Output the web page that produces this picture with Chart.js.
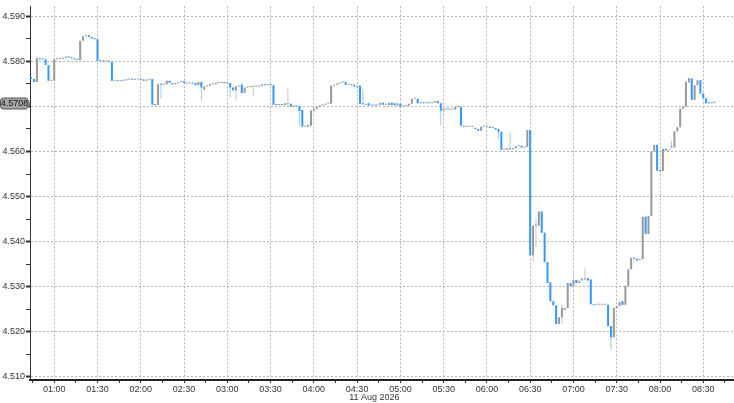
<!DOCTYPE html>
<html>
<head>
<meta charset="utf-8">
<script src="https://cdn.jsdelivr.net/npm/chart.js@4.4.1/dist/chart.umd.min.js"></script>
<style>
  html, body { margin: 0; padding: 0; background: #fff; }
  #wrap { position: relative; width: 734px; height: 403px; }
</style>
</head>
<body>
<div id="wrap"><canvas id="chart"></canvas></div>
<script>
// 2-minute bars, first one at 00:44
const firstBar = '00:44';
const barStep = 2;
const dateLabel = '11 Aug 2026';

const opens = [
  4.5765,4.5761,4.5754,4.5807,4.5805,4.5805,4.5792,4.5757,4.5757,4.5805,
  4.5806,4.5806,4.5808,4.5811,4.5809,4.5807,4.5805,4.5803,4.5846,4.5856,
  4.5858,4.5854,4.5851,4.5849,4.5801,4.5802,4.5800,4.5800,4.5799,4.5757,
  4.5757,4.5756,4.5757,4.5758,4.5760,4.5761,4.5759,4.5760,4.5760,4.5760,
  4.5757,4.5760,4.5761,4.5704,4.5703,4.5749,4.5748,4.5749,4.5757,4.5752,
  4.5749,4.5752,4.5754,4.5756,4.5752,4.5751,4.5752,4.5752,4.5747,4.5754,
  4.5738,4.5744,4.5746,4.5749,4.5749,4.5752,4.5752,4.5754,4.5752,4.5752,
  4.5742,4.5736,4.5744,4.5748,4.5730,4.5742,4.5743,4.5744,4.5744,4.5744,
  4.5746,4.5749,4.5747,4.5749,4.5747,4.5704,4.5703,4.5705,4.5703,4.5705,
  4.5706,4.5700,4.5701,4.5701,4.5692,4.5655,4.5655,4.5657,4.5691,4.5695,
  4.5699,4.5702,4.5704,4.5706,4.5706,4.5746,4.5748,4.5751,4.5753,4.5755,
  4.5748,4.5748,4.5748,4.5745,4.5746,4.5706,4.5705,4.5707,4.5702,4.5703,
  4.5702,4.5704,4.5708,4.5704,4.5703,4.5708,4.5707,4.5702,4.5706,4.5700,
  4.5701,4.5702,4.5706,4.5717,4.5717,4.5707,4.5709,4.5707,4.5709,4.5707,
  4.5709,4.5712,4.5707,4.5691,4.5695,4.5694,4.5693,4.5693,4.5699,4.5699,
  4.5657,4.5655,4.5655,4.5655,4.5653,4.5650,4.5646,4.5655,4.5655,4.5655,
  4.5652,4.5652,4.5650,4.5644,4.5604,4.5604,4.5607,4.5605,4.5608,4.5612,
  4.5613,4.5609,4.5610,4.5648,4.5370,4.5435,4.5435,4.5467,4.5420,4.5355,
  4.5310,4.5268,4.5259,4.5217,4.5232,4.5248,4.5253,4.5308,4.5301,4.5315,
  4.5309,4.5314,4.5316,4.5319,4.5316,4.5261,4.5260,4.5260,4.5260,4.5260,
  4.5260,4.5213,4.5188,4.5253,4.5257,4.5268,4.5260,4.5302,4.5339,4.5364,
  4.5362,4.5359,4.5361,4.5455,4.5417,4.5457,4.5600,4.5615,4.5558,4.5557,
  4.5606,4.5602,4.5610,4.5609,4.5645,4.5654,4.5695,4.5700,4.5753,4.5762,
  4.5715,4.5747,4.5758,4.5729,4.5718,4.5709,4.5707,4.5709
];
const highs = [
  4.5765,4.5761,4.5808,4.5807,4.5805,4.5805,4.5792,4.5757,4.5805,4.5806,
  4.5806,4.5808,4.5811,4.5811,4.5809,4.5807,4.5805,4.5846,4.5856,4.5858,
  4.5858,4.5854,4.5851,4.5849,4.5802,4.5802,4.5800,4.5800,4.5799,4.5757,
  4.5757,4.5757,4.5758,4.5760,4.5761,4.5761,4.5760,4.5760,4.5760,4.5760,
  4.5760,4.5761,4.5761,4.5704,4.5749,4.5749,4.5749,4.5757,4.5757,4.5752,
  4.5752,4.5754,4.5756,4.5756,4.5752,4.5752,4.5752,4.5752,4.5754,4.5754,
  4.5744,4.5746,4.5749,4.5749,4.5752,4.5752,4.5754,4.5754,4.5752,4.5752,
  4.5742,4.5744,4.5745,4.5752,4.5742,4.5743,4.5744,4.5744,4.5744,4.5746,
  4.5749,4.5749,4.5749,4.5749,4.5747,4.5704,4.5704,4.5705,4.5707,4.5741,
  4.5706,4.5701,4.5701,4.5701,4.5692,4.5656,4.5659,4.5691,4.5695,4.5699,
  4.5702,4.5704,4.5706,4.5706,4.5746,4.5748,4.5751,4.5753,4.5755,4.5755,
  4.5748,4.5748,4.5748,4.5745,4.5746,4.5738,4.5705,4.5707,4.5703,4.5703,
  4.5704,4.5708,4.5708,4.5705,4.5708,4.5708,4.5707,4.5707,4.5706,4.5701,
  4.5702,4.5706,4.5717,4.5717,4.5717,4.5708,4.5709,4.5709,4.5709,4.5709,
  4.5712,4.5712,4.5707,4.5695,4.5695,4.5694,4.5694,4.5699,4.5699,4.5699,
  4.5657,4.5655,4.5655,4.5656,4.5653,4.5650,4.5655,4.5655,4.5655,4.5655,
  4.5652,4.5652,4.5650,4.5644,4.5604,4.5607,4.5644,4.5608,4.5612,4.5613,
  4.5613,4.5610,4.5648,4.5648,4.5435,4.5453,4.5467,4.5467,4.5420,4.5355,
  4.5310,4.5268,4.5259,4.5232,4.5261,4.5253,4.5308,4.5308,4.5333,4.5315,
  4.5313,4.5318,4.5342,4.5319,4.5316,4.5261,4.5260,4.5260,4.5260,4.5260,
  4.5260,4.5213,4.5253,4.5257,4.5266,4.5268,4.5302,4.5339,4.5364,4.5364,
  4.5362,4.5361,4.5455,4.5455,4.5457,4.5600,4.5615,4.5615,4.5558,4.5606,
  4.5606,4.5604,4.5624,4.5645,4.5654,4.5695,4.5700,4.5755,4.5763,4.5762,
  4.5747,4.5758,4.5758,4.5729,4.5718,4.5709,4.5708,4.5709
];
const lows = [
  4.5761,4.5754,4.5754,4.5805,4.5804,4.5792,4.5757,4.5757,4.5757,4.5805,
  4.5806,4.5806,4.5808,4.5809,4.5807,4.5805,4.5803,4.5803,4.5846,4.5856,
  4.5854,4.5851,4.5849,4.5801,4.5801,4.5800,4.5800,4.5799,4.5757,4.5757,
  4.5756,4.5756,4.5757,4.5758,4.5760,4.5759,4.5759,4.5760,4.5759,4.5757,
  4.5757,4.5760,4.5704,4.5703,4.5703,4.5717,4.5748,4.5749,4.5752,4.5749,
  4.5749,4.5752,4.5754,4.5752,4.5751,4.5751,4.5751,4.5747,4.5747,4.5713,
  4.5735,4.5744,4.5746,4.5749,4.5749,4.5752,4.5752,4.5752,4.5752,4.5720,
  4.5736,4.5713,4.5744,4.5730,4.5730,4.5742,4.5743,4.5722,4.5744,4.5744,
  4.5746,4.5747,4.5747,4.5747,4.5704,4.5703,4.5703,4.5703,4.5703,4.5705,
  4.5700,4.5700,4.5700,4.5657,4.5655,4.5655,4.5655,4.5657,4.5691,4.5695,
  4.5699,4.5702,4.5704,4.5706,4.5706,4.5746,4.5748,4.5751,4.5753,4.5748,
  4.5748,4.5747,4.5744,4.5743,4.5706,4.5705,4.5704,4.5702,4.5702,4.5702,
  4.5702,4.5704,4.5704,4.5704,4.5703,4.5703,4.5702,4.5702,4.5700,4.5700,
  4.5701,4.5702,4.5706,4.5717,4.5707,4.5707,4.5707,4.5707,4.5707,4.5707,
  4.5709,4.5707,4.5659,4.5677,4.5694,4.5693,4.5693,4.5693,4.5699,4.5657,
  4.5655,4.5655,4.5655,4.5655,4.5650,4.5646,4.5646,4.5655,4.5655,4.5652,
  4.5652,4.5649,4.5628,4.5604,4.5604,4.5604,4.5605,4.5605,4.5608,4.5612,
  4.5609,4.5609,4.5610,4.5370,4.5355,4.5388,4.5435,4.5420,4.5355,4.5308,
  4.5268,4.5259,4.5217,4.5217,4.5217,4.5248,4.5253,4.5301,4.5301,4.5308,
  4.5309,4.5314,4.5316,4.5314,4.5261,4.5259,4.5260,4.5260,4.5260,4.5260,
  4.5213,4.5160,4.5188,4.5253,4.5257,4.5260,4.5260,4.5302,4.5339,4.5362,
  4.5358,4.5359,4.5361,4.5417,4.5417,4.5457,4.5600,4.5558,4.5557,4.5557,
  4.5602,4.5602,4.5609,4.5609,4.5645,4.5654,4.5695,4.5700,4.5753,4.5715,
  4.5715,4.5747,4.5729,4.5718,4.5707,4.5707,4.5707,4.5708
];
const closes = [
  4.5761,4.5754,4.5807,4.5805,4.5804,4.5792,4.5757,4.5757,4.5805,4.5806,
  4.5806,4.5808,4.5811,4.5809,4.5807,4.5805,4.5803,4.5846,4.5856,4.5858,
  4.5854,4.5851,4.5849,4.5801,4.5802,4.5800,4.5800,4.5799,4.5757,4.5757,
  4.5756,4.5757,4.5758,4.5760,4.5761,4.5759,4.5760,4.5760,4.5759,4.5757,
  4.5760,4.5761,4.5704,4.5703,4.5749,4.5748,4.5749,4.5757,4.5752,4.5749,
  4.5752,4.5754,4.5756,4.5752,4.5751,4.5752,4.5751,4.5747,4.5754,4.5742,
  4.5744,4.5746,4.5749,4.5749,4.5752,4.5752,4.5754,4.5752,4.5752,4.5742,
  4.5736,4.5744,4.5745,4.5730,4.5742,4.5743,4.5744,4.5744,4.5744,4.5746,
  4.5749,4.5747,4.5749,4.5747,4.5704,4.5703,4.5704,4.5703,4.5707,4.5707,
  4.5700,4.5701,4.5700,4.5690,4.5655,4.5656,4.5659,4.5691,4.5695,4.5699,
  4.5702,4.5704,4.5706,4.5706,4.5746,4.5748,4.5751,4.5753,4.5755,4.5748,
  4.5748,4.5747,4.5744,4.5743,4.5706,4.5705,4.5704,4.5702,4.5703,4.5702,
  4.5704,4.5708,4.5704,4.5705,4.5708,4.5703,4.5702,4.5707,4.5700,4.5701,
  4.5702,4.5706,4.5717,4.5717,4.5707,4.5708,4.5707,4.5709,4.5707,4.5709,
  4.5712,4.5707,4.5691,4.5695,4.5694,4.5693,4.5694,4.5699,4.5699,4.5657,
  4.5655,4.5655,4.5655,4.5656,4.5650,4.5646,4.5655,4.5655,4.5655,4.5652,
  4.5652,4.5649,4.5644,4.5604,4.5604,4.5607,4.5605,4.5608,4.5612,4.5613,
  4.5609,4.5610,4.5648,4.5370,4.5435,4.5436,4.5467,4.5420,4.5355,4.5308,
  4.5268,4.5259,4.5217,4.5232,4.5253,4.5253,4.5308,4.5301,4.5315,4.5308,
  4.5313,4.5318,4.5318,4.5314,4.5261,4.5259,4.5260,4.5260,4.5260,4.5260,
  4.5213,4.5188,4.5253,4.5257,4.5266,4.5260,4.5302,4.5339,4.5364,4.5362,
  4.5358,4.5361,4.5455,4.5417,4.5457,4.5600,4.5615,4.5558,4.5557,4.5606,
  4.5602,4.5604,4.5609,4.5645,4.5654,4.5695,4.5700,4.5755,4.5763,4.5715,
  4.5747,4.5758,4.5729,4.5718,4.5707,4.5707,4.5708,4.5708
];

const BLUE = '#3399ff';
const GRAY = '#999999';
const BLUE_WICK = '#9ccbf7';
const GRAY_WICK = '#c9c9c9';

const toMinutes = (s) => { const [h, m] = s.split(':').map(Number); return h * 60 + m; };
const fmtTime = (v) => String(Math.floor(v / 60)).padStart(2, '0') + ':' + String(v % 60).padStart(2, '0');

const start = toMinutes(firstBar);
const times = opens.map((_, i) => start + i * barStep);
const isDown = opens.map((o, i) => closes[i] < o);

const bodyData = times.map((t, i) => ({ x: t, y: [opens[i], closes[i]] }));
const wickData = times.map((t, i) => ({ x: t, y: [lows[i], highs[i]] }));

const isMajorY = (v) => Math.abs(Math.round(v * 100) - v * 100) < 1e-6;
const isMajorX = (v) => v % 30 === 0;

// last price tag and date under the time axis
const overlay = {
    id: 'overlay',
    afterDraw(chart) {
        const { ctx, scales: { x, y } } = chart;
        const last = closes[closes.length - 1];
        const py = Math.round(y.getPixelForValue(last)) + 0.5;
        ctx.save();
        ctx.beginPath();
        ctx.moveTo(3.5, py - 5.5);
        ctx.lineTo(26.5, py - 5.5);
        ctx.lineTo(30, py);
        ctx.lineTo(26.5, py + 5.5);
        ctx.lineTo(3.5, py + 5.5);
        ctx.quadraticCurveTo(0.5, py + 5.5, 0.5, py + 2.5);
        ctx.lineTo(0.5, py - 2.5);
        ctx.quadraticCurveTo(0.5, py - 5.5, 3.5, py - 5.5);
        ctx.closePath();
        ctx.fillStyle = '#a6a6a6';
        ctx.fill();
        ctx.strokeStyle = '#555';
        ctx.lineWidth = 1;
        ctx.stroke();
        ctx.fillStyle = '#111';
        ctx.font = '9px "Liberation Sans", Arial, sans-serif';
        ctx.textAlign = 'center';
        ctx.textBaseline = 'middle';
        ctx.fillText(last.toFixed(4), 14.5, py + 0.5);

        ctx.fillStyle = '#333';
        ctx.fillText(dateLabel, x.getPixelForValue(282), 398);
        ctx.restore();
    }
};

new Chart(document.getElementById('chart'), {
    type: 'bar',
    data: {
        datasets: [
            {
                label: 'body',
                data: bodyData,
                backgroundColor: isDown.map(d => d ? BLUE : GRAY),
                grouped: false,
                maxBarThickness: 2,
                minBarLength: 1,
                order: 0
            },
            {
                label: 'wick',
                data: wickData,
                backgroundColor: isDown.map(d => d ? BLUE_WICK : GRAY_WICK),
                grouped: false,
                maxBarThickness: 1,
                order: 1
            }
        ]
    },
    options: {
        responsive: true,
        maintainAspectRatio: false,
        animation: false,
        layout: { padding: 0 },
        plugins: { legend: { display: false }, tooltip: { enabled: false } },
        scales: {
            x: {
                type: 'linear',
                min: 43.2,
                max: 531.3,
                offset: false,
                afterFit(scale) { scale.height = 23; },
                ticks: {
                    stepSize: 15,
                    includeBounds: false,
                    autoSkip: false,
                    maxRotation: 0,
                    minRotation: 0,
                    padding: 1,
                    color: '#333',
                    font: { family: '"Liberation Sans", Arial, sans-serif', size: 9 },
                    callback: (v) => isMajorX(v) ? fmtTime(v) : ''
                },
                grid: {
                    offset: false,
                    color: (c) => c.tick && isMajorX(c.tick.value) ? '#b3b3b3' : 'rgba(0,0,0,0)',
                    tickColor: '#333',
                    tickLength: 3,
                    lineWidth: 1
                },
                border: { display: true, color: '#222', width: 2, dash: [2, 2] }
            },
            y: {
                min: 4.5093,
                max: 4.5922,
                afterFit(scale) { scale.width = 30; },
                ticks: {
                    stepSize: 0.005,
                    includeBounds: false,
                    padding: 1,
                    color: '#333',
                    font: { family: '"Liberation Sans", Arial, sans-serif', size: 9 },
                    callback: (v) => isMajorY(v) ? v.toFixed(3) : ''
                },
                grid: {
                    color: (c) => c.tick && isMajorY(c.tick.value) ? '#b3b3b3' : 'rgba(0,0,0,0)',
                    tickColor: '#333',
                    tickLength: 4,
                    tickWidth: (c) => c.tick && isMajorY(c.tick.value) ? 2 : 1,
                    lineWidth: 1
                },
                border: { display: true, color: '#333', width: 1, dash: [2, 2] }
            }
        }
    },
    plugins: [overlay]
});
</script>
</body>
</html>
